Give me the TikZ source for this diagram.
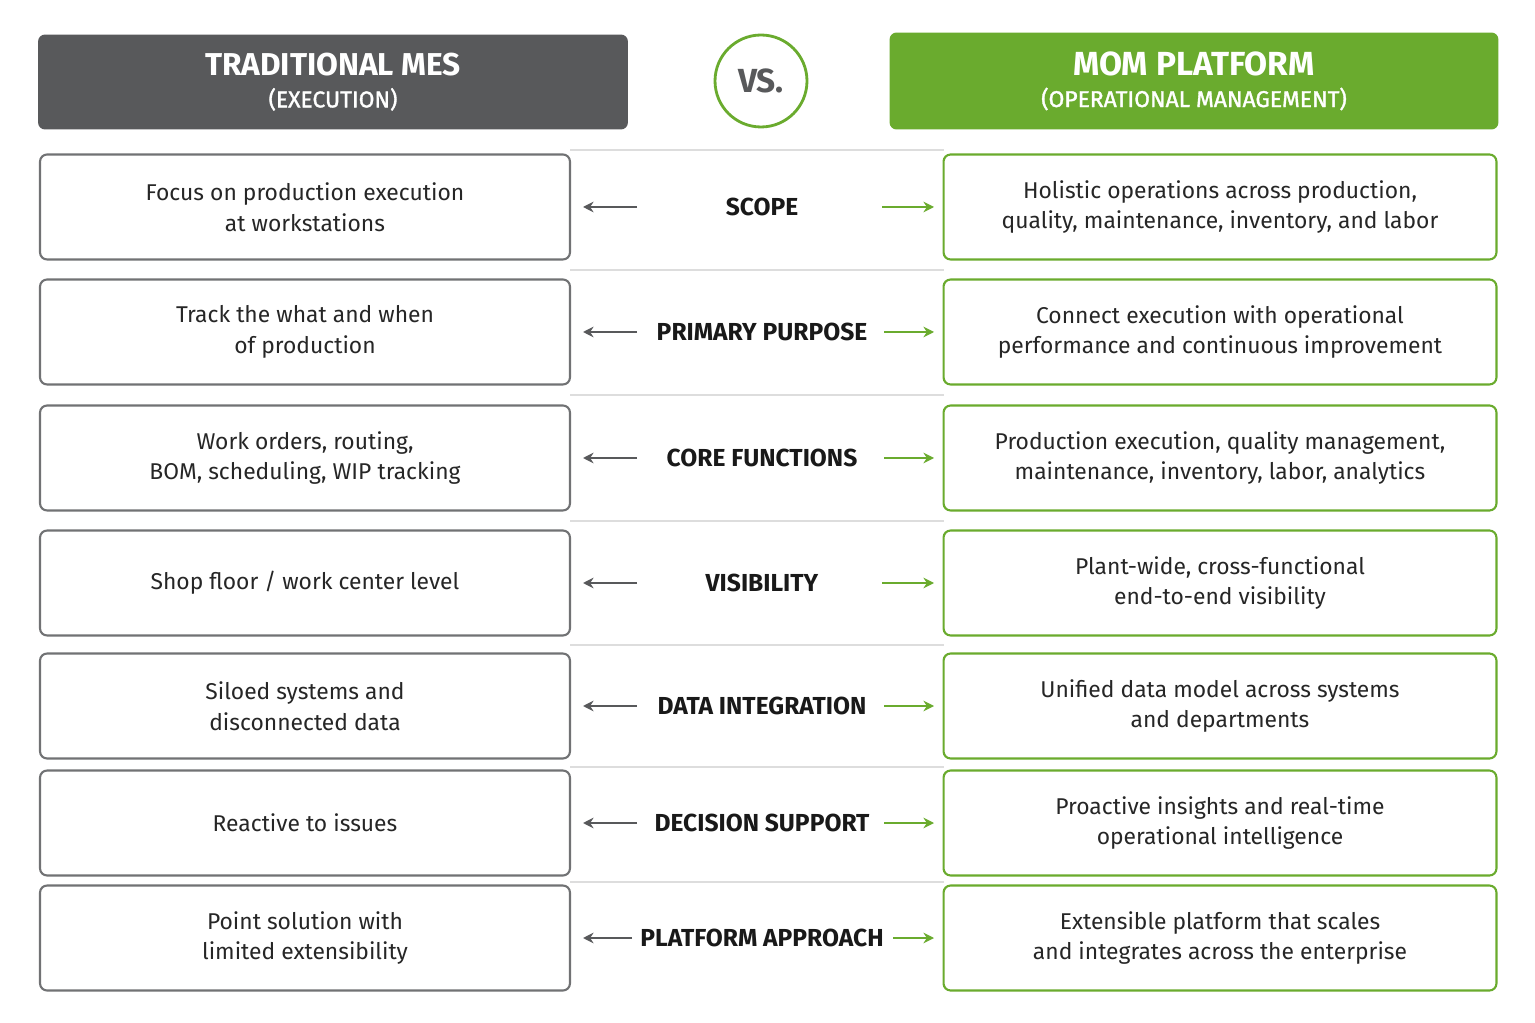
\documentclass[tikz,border=0pt]{standalone}
\usepackage{fontspec}
\setmainfont{Fira Sans}
\usetikzlibrary{positioning,arrows.meta}
\definecolor{mesgray}{HTML}{58595B}
\definecolor{momgreen}{HTML}{6AAB2E}
\definecolor{linegray}{HTML}{DDDDDD}
\begin{document}
\begin{tikzpicture}%
        [x=0.02cm, y=-0.02cm,
        head/.style={rounded corners=4pt, inner sep=0pt, text=white, align=center},
        lbox/.style={draw=mesgray!85, line width=1.2pt, rounded corners=4pt, fill=white,
          minimum width=10.6cm, minimum height=2.1cm, align=center, font=\fontsize{13}{17.5}\selectfont, text=black!85},
        rbox/.style={lbox, draw=momgreen, minimum width=11.06cm},
        cat/.style={font=\fontsize{14}{16}\selectfont\bfseries, text=black!90},
        larr/.style={draw=mesgray, line width=1.3pt, -{Stealth[length=6pt,width=6pt]}},
        rarr/.style={draw=momgreen, line width=1.3pt, -{Stealth[length=6pt,width=6pt]}}]

    %% Canvas
    \useasboundingbox (0,0) rectangle (1535,1023);
    \fill[white] (0,0) rectangle (1535,1023);

    %% Headers
    \node[head, fill=mesgray, minimum width=11.8cm, minimum height=1.9cm] (mes) at (333,82)
      {{\fontsize{18}{22}\selectfont\bfseries TRADITIONAL MES}\\[6pt]{\fontsize{13}{15}\selectfont\addfontfeature{FakeBold=1.5} (EXECUTION)}};
    \node[head, fill=momgreen, minimum width=12.18cm, minimum height=1.94cm] (mom) at (1194,81)
      {{\fontsize{19}{22}\selectfont\bfseries MOM PLATFORM}\\[6pt]{\fontsize{13}{15}\selectfont\addfontfeature{FakeBold=1.5} (OPERATIONAL MANAGEMENT)}};
    \node[circle, draw=momgreen, line width=1.6pt, minimum size=1.84cm, fill=white,
      font=\fontsize{19}{22}\selectfont\bfseries, text=mesgray] (vs) at (761,81) {VS.};

    %% Separators
    \foreach \yy in {150,270,395,521,645,767,882}
      \draw[linegray, line width=0.8pt] (570,\yy) -- (944,\yy);

    %% Rows
    \foreach \i/\yy/\lbl/\ltxt/\rtxt/\la/\ra in {%
      1/207/SCOPE/{Focus on production execution\\at workstations}/{Holistic operations across production,\\quality, maintenance, inventory, and labor}/637/882,
      2/332/PRIMARY PURPOSE/{Track the what and when\\of production}/{Connect execution with operational\\performance and continuous improvement}/637/884,
      3/458/CORE FUNCTIONS/{Work orders, routing,\\BOM, scheduling, WIP tracking}/{Production execution, quality management,\\maintenance, inventory, labor, analytics}/637/884,
      4/583/VISIBILITY/{Shop floor / work center level}/{Plant-wide, cross-functional\\end-to-end visibility}/637/882,
      5/706/DATA INTEGRATION/{Siloed systems and\\disconnected data}/{Unified data model across systems\\and departments}/637/884,
      6/823/DECISION SUPPORT/{Reactive to issues}/{Proactive insights and real-time\\operational intelligence}/637/884,
      7/938/PLATFORM APPROACH/{Point solution with\\limited extensibility}/{Extensible platform that scales\\and integrates across the enterprise}/632/893}
    {
      \node[lbox] (l\i) at (305,\yy) {\ltxt};
      \node[rbox] (r\i) at (1220,\yy) {\rtxt};
      \node[cat] (c\i) at (762,\yy) {\lbl};
      \coordinate (la\i) at (\la,\yy);
      \coordinate (ra\i) at (\ra,\yy);
      \draw[larr] (la\i) -- (l\i.east -| 583,0);
      \draw[rarr] (ra\i) -- (r\i.west -| 934,0);
    }
\end{tikzpicture}
\end{document}
